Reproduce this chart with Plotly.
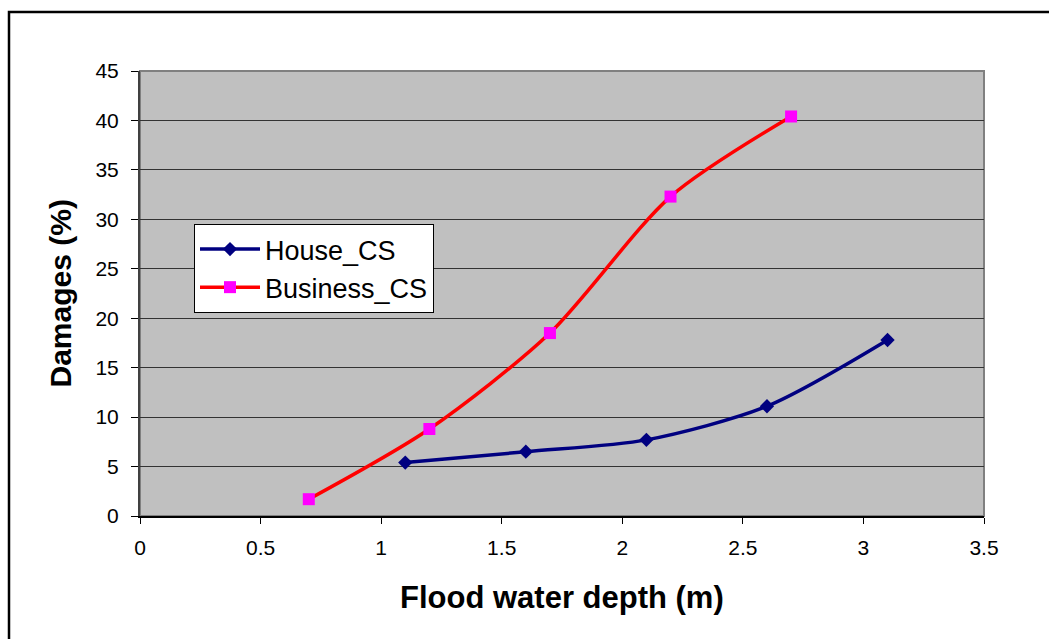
import plotly.graph_objects as go

# Depth (m) vs. damage (%) for the two curve sets
house_depth = [1.1, 1.6, 2.1, 2.6, 3.1]
house_damage = [5.4, 6.5, 7.7, 11.1, 17.8]

business_depth = [0.7, 1.2, 1.7, 2.2, 2.7]
business_damage = [1.7, 8.8, 18.5, 32.3, 40.4]

x_ticks = [0, 0.5, 1, 1.5, 2, 2.5, 3, 3.5]
y_ticks = [0, 5, 10, 15, 20, 25, 30, 35, 40, 45]

FONT = "Liberation Sans, Arial, sans-serif"

fig = go.Figure()

fig.add_trace(go.Scatter(
    x=house_depth, y=house_damage, name="House_CS",
    mode="lines+markers",
    line=dict(color="#000080", width=3.5, shape="spline", smoothing=0.8),
    marker=dict(symbol="diamond", size=11, color="#000080"),
))

fig.add_trace(go.Scatter(
    x=business_depth, y=business_damage, name="Business_CS",
    mode="lines+markers",
    line=dict(color="#FF0000", width=3.5, shape="spline", smoothing=0.8),
    marker=dict(symbol="square", size=12, color="#FF00FF"),
))

L, R, T, B = 140, 65, 71, 123
W, H = 1049, 639
pw, ph = W - L - R, H - T - B

fig.update_layout(
    width=W, height=H,
    margin=dict(l=L, r=R, t=T, b=B, pad=0),
    paper_bgcolor="white",
    plot_bgcolor="#C0C0C0",
    font=dict(family=FONT, color="black", size=21),
    showlegend=True,
    legend=dict(
        x=(194 - L) / pw, y=(H - B - 224) / ph,
        xanchor="left", yanchor="top",
        bgcolor="white", bordercolor="black", borderwidth=1,
        font=dict(family=FONT, size=27, color="black"),
        tracegroupgap=0, itemwidth=60,
    ),
    xaxis=dict(
        range=[0, 3.5], tickvals=x_ticks,
        showgrid=False, zeroline=False,
        showline=True, linecolor="black", linewidth=2,
        ticks="outside", ticklen=6, tickcolor="black", tickwidth=1,
        ticklabelstandoff=6,
        tickfont=dict(family=FONT, size=21),
    ),
    yaxis=dict(
        range=[0, 45], tickvals=y_ticks,
        showgrid=True, gridcolor="#333333", gridwidth=1,
        zeroline=False,
        showline=True, linecolor="#404040", linewidth=2,
        ticks="outside", ticklen=7, tickcolor="black", tickwidth=1,
        ticklabelstandoff=8,
        tickfont=dict(family=FONT, size=21),
    ),
    shapes=[
        # plot-area border (top and right edges)
        dict(type="rect", xref="paper", yref="paper", x0=0, x1=1, y0=0, y1=1,
             line=dict(color="#808080", width=2), layer="below"),
        # outer chart frame
        dict(type="rect", xref="paper", yref="paper",
             x0=(9 - L) / pw, x1=(W + 10 - L) / pw,
             y0=(H - B - (H + 10)) / ph, y1=(H - B - 12) / ph,
             line=dict(color="black", width=2.5)),
    ],
    annotations=[
        dict(text="<b>Flood water depth (m)</b>", xref="paper", yref="paper",
             x=0.5, y=0, xanchor="center", yanchor="middle", yshift=-81,
             showarrow=False, font=dict(family=FONT, size=31)),
        dict(text="<b>Damages (%)</b>", xref="paper", yref="paper",
             x=0, y=0.5, xanchor="center", yanchor="middle", xshift=-80,
             textangle=-90, showarrow=False, font=dict(family=FONT, size=30)),
    ],
)

fig.write_html("out.html")
